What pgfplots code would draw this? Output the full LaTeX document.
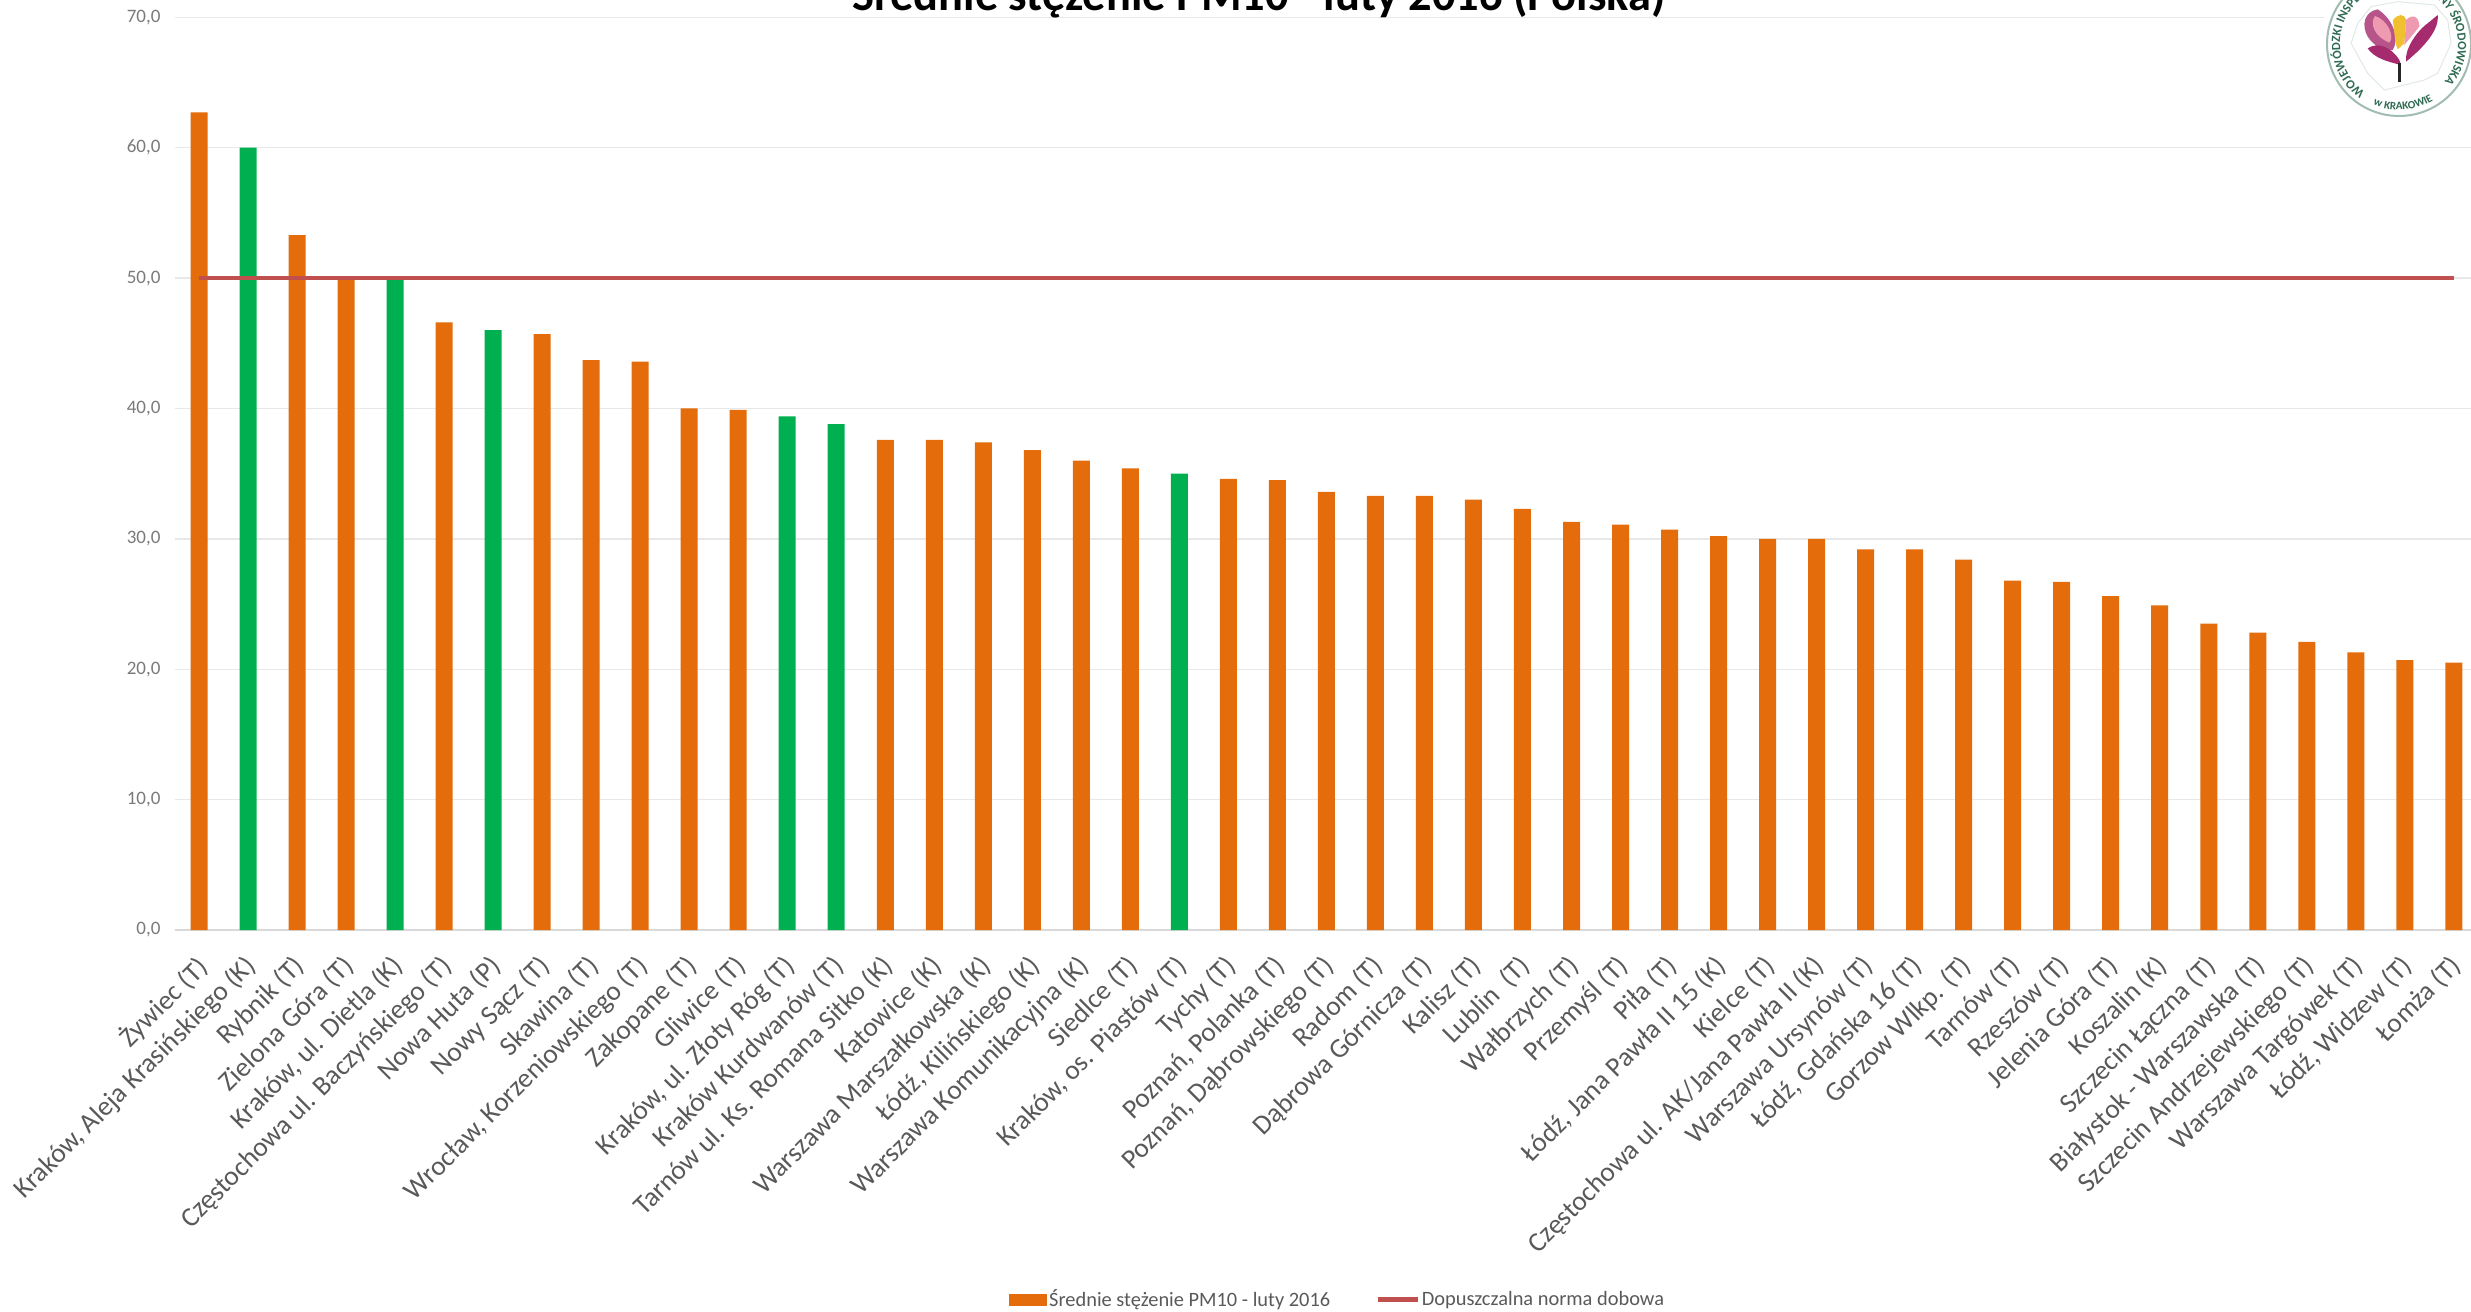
\documentclass[border=0pt]{standalone}
\usepackage{fontspec}
\setmainfont{Carlito}
\usepackage{pgfplots}
\pgfplotsset{compat=1.18}
\usetikzlibrary{decorations.text}
\definecolor{barorange}{HTML}{E46C0A}
\definecolor{bargreen}{HTML}{00B050}
\definecolor{normred}{HTML}{C0504D}
\definecolor{gridgray}{HTML}{E8E8E8}
\definecolor{basegray}{HTML}{D9D9D9}
\definecolor{textgray}{HTML}{595959}
\definecolor{sealgreen}{HTML}{2F6B52}
\definecolor{sealmagenta}{HTML}{A52A6E}
\definecolor{sealpink}{HTML}{EE9AB0}
\definecolor{sealyellow}{HTML}{F0C030}
\begin{document}
\begin{tikzpicture}
\path[use as bounding box, clip] (0,0) rectangle (1235.5pt,655.5pt);
\begin{axis}[
  at={(87.25pt,190.5pt)}, anchor=south west,
  scale only axis, width=1148.25pt, height=456.35pt,
  xmin=-0.5, xmax=46.35, ymin=0, ymax=70,
  clip=false,
  axis x line*=bottom, axis y line*=left,
  x axis line style={-, draw=basegray, line width=0.8pt},
  y axis line style={-, draw=none},
  tick style={draw=none},
  ytick={0,10,...,70},
  ymajorgrids=true,
  grid style={gridgray, line width=0.7pt},
  /pgf/number format/.cd, fixed, fixed zerofill, precision=1, use comma, assume math mode=true,
  /pgfplots/.cd,
  yticklabel style={font=\fontsize{9.5}{11}\selectfont, text=textgray!80, xshift=-3.5pt},
  xtick={0,...,46},
  xticklabels={{Żywiec (T)},{Kraków, Aleja Krasińskiego (K)},{Rybnik (T)},{Zielona Góra (T)},{Kraków, ul. Dietla (K)},{Częstochowa ul. Baczyńskiego (T)},{Nowa Huta (P)},{Nowy Sącz (T)},{Skawina (T)},{Wrocław, Korzeniowskiego (T)},{Zakopane (T)},{Gliwice (T)},{Kraków, ul. Złoty Róg (T)},{Kraków Kurdwanów (T)},{Tarnów ul. Ks. Romana Sitko (K)},{Katowice (K)},{Warszawa Marszałkowska (K)},{Łódź, Kilińskiego (K)},{Warszawa Komunikacyjna (K)},{Siedlce (T)},{Kraków, os. Piastów (T)},{Tychy (T)},{Poznań, Polanka (T)},{Poznań, Dąbrowskiego (T)},{Radom (T)},{Dąbrowa Górnicza (T)},{Kalisz (T)},{Lublin\ \ (T)},{Wałbrzych (T)},{Przemyśl (T)},{Piła (T)},{Łódź, Jana Pawła II 15 (K)},{Kielce (T)},{Częstochowa ul. AK/Jana Pawła II (K)},{Warszawa Ursynów (T)},{Łódź, Gdańska 16 (T)},{Gorzow Wlkp. (T)},{Tarnów (T)},{Rzeszów (T)},{Jelenia Góra (T)},{Koszalin (K)},{Szczecin Łączna (T)},{Białystok - Warszawska (T)},{Szczecin Andrzejewskiego (T)},{Warszawa Targówek (T)},{Łódź, Widzew (T)},{Łomża (T)}},
  xticklabel style={font=\fontsize{13.7}{16}\selectfont, text=textgray, rotate=45, anchor=north east, inner sep=0pt, xshift=-9.85pt, yshift=-6.1pt},
  title={Średnie stężenie PM10 - luty 2016 (Polska)},
  title style={font=\fontsize{23.2}{26}\selectfont\bfseries, at={(0.4723,1)}, anchor=base, yshift=-2.4pt, inner sep=0pt},
  legend style={at={(0.3633,-0.405)}, anchor=west, draw=none, fill=none, inner sep=0pt,
    font=\fontsize{10.2}{12}\selectfont, text=textgray, legend columns=2,
    /tikz/every even column/.append style={column sep=21.6pt},
    nodes={inner xsep=1pt, inner ysep=0pt}},
  legend cell align=left,
]
\addplot[ybar, bar width=8.5pt, bar shift=0pt, fill=barorange, draw=none,
  legend image code/.code={\fill[barorange] (0pt,-3pt) rectangle (19pt,3pt);}]
table {
0 62.7
2 53.3
3 50.0
5 46.6
7 45.7
8 43.7
9 43.6
10 40.0
11 39.9
14 37.6
15 37.6
16 37.4
17 36.8
18 36.0
19 35.4
21 34.6
22 34.5
23 33.6
24 33.3
25 33.3
26 33.0
27 32.3
28 31.3
29 31.1
30 30.7
31 30.2
32 30.0
33 30.0
34 29.2
35 29.2
36 28.4
37 26.8
38 26.7
39 25.6
40 24.9
41 23.5
42 22.8
43 22.1
44 21.3
45 20.7
46 20.5
};
\addlegendentry{Średnie stężenie PM10 - luty 2016}
\addplot[ybar, bar width=8.5pt, bar shift=0pt, fill=bargreen, draw=none, forget plot]
table {
1 60.0
4 50.0
6 46.0
12 39.4
13 38.8
20 35.0
};
\addplot[normred, line width=2.2pt, no marks,
  legend image code/.code={\draw[normred, line width=2.2pt] (0pt,0pt) -- (20pt,0pt);}]
coordinates {(0,50) (46,50)};
\addlegendentry{Dopuszczalna norma dobowa}
\end{axis}
% seal in the top right corner, cropped by the page
\fill[white] (1162pt,596.5pt) rectangle (1235.5pt,655.5pt);
\begin{scope}[shift={(1199.5pt,633.5pt)}]
  \fill[white] (0,0) circle [radius=36.5pt];
  \draw[sealgreen!45, line width=1pt] (0,0) circle [radius=36pt];
  \path[decorate, decoration={text along path,
    text={|\fontsize{6.3}{8}\selectfont\bfseries\color{sealgreen}|WOJEWÓDZKI INSPEKTORAT OCHRONY ŚRODOWISKA}}]
    (235:29.5pt) arc [start angle=235, end angle=-60, radius=29.5pt];
  \path[decorate, decoration={text along path,
    text={|\fontsize{5.6}{7}\selectfont\bfseries\color{sealgreen}|w KRAKOWIE}}]
    (247:33pt) arc [start angle=247, end angle=310, radius=33pt];
\end{scope}
\begin{scope}[shift={(1085.5pt,655.5pt)}, x=0.16667pt, y=-0.16667pt]
  \draw[sealgreen!15, line width=0.5pt] (540,130) -- (560,70) -- (600,20) -- (680,5) -- (790,15) -- (830,60) -- (840,130) -- (800,220) -- (760,240) -- (700,255) -- (640,270) -- (590,220) -- cycle;
  \fill[sealmagenta!80] (620,28) .. controls (580,35) and (570,75) .. (590,110) .. controls (610,140) and (640,155) .. (665,150) .. controls (685,120) and (670,60) .. (620,28) -- cycle;
  \fill[sealpink] (612,48) .. controls (595,70) and (610,110) .. (655,128) .. controls (672,110) and (650,60) .. (612,48) -- cycle;
  \fill[sealyellow] (665,62) .. controls (680,40) and (700,40) .. (705,60) -- (700,130) -- (680,148) .. controls (668,120) and (672,90) .. (665,62) -- cycle;
  \fill[sealpink] (705,60) .. controls (725,40) and (745,50) .. (745,80) -- (700,135) -- cycle;
  \fill[sealmagenta] (800,45) .. controls (805,90) and (760,140) .. (705,185) .. controls (700,150) and (735,95) .. (770,70) -- cycle;
  \fill[sealmagenta] (590,145) .. controls (620,125) and (660,140) .. (685,180) -- (690,195) .. controls (650,185) and (610,175) .. (590,145) -- cycle;
  \draw[black!85, line width=1.8pt] (685,245) -- (685,190);
\end{scope}
\end{tikzpicture}
\end{document}
